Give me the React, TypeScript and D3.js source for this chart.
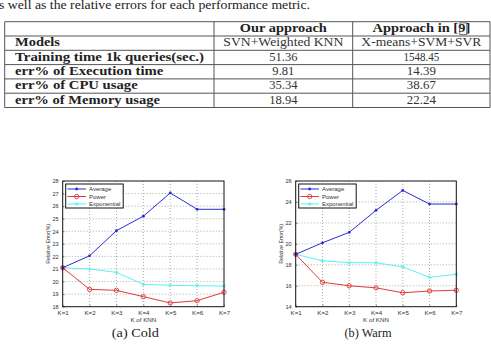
import React, { useRef, useEffect } from 'react';
import * as d3 from 'd3';

// table
const introText = 's well as the relative errors for each performance metric.';
const headerCols = ['Our approach', 'Approach in '];
const headerRef = '9';
const rowLabels = ['Models', 'Training time 1k queries(sec.)', 'err% of Execution time', 'err% of CPU usage', 'err% of Memory usage'];
const ourValues = ['SVN+Weighted KNN', '51.36', '9.81', '35.34', '18.94'];
const theirValues = ['X-means+SVM+SVR', '1548.45', '14.39', '38.67', '22.24'];

// charts
const kLabels = ['K=1', 'K=2', 'K=3', 'K=4', 'K=5', 'K=6', 'K=7'];
const seriesNames = ['Average', 'Power', 'Exponential'];

const coldAverage = [21.1, 22.05, 24.05, 25.2, 27.05, 25.75, 25.75];
const coldPower = [21.1, 19.38, 19.3, 18.8, 18.3, 18.48, 19.15];
const coldExponential = [21.1, 21.0, 20.73, 19.78, 19.7, 19.67, 19.64];
const coldTicks = [18, 19, 20, 21, 22, 23, 24, 25, 26, 27, 28];

const warmAverage = [19.0, 20.1, 21.1, 23.2, 25.1, 23.8, 23.8];
const warmPower = [19.0, 16.33, 16.0, 15.8, 15.33, 15.5, 15.57];
const warmExponential = [19.0, 18.38, 18.2, 18.2, 17.8, 16.8, 17.1];
const warmTicks = [14, 16, 18, 20, 22, 24, 26];

const colors = ['#2a2ad8', '#e23a3a', '#5ff0f0'];
const sans = 'Liberation Sans, Arial, sans-serif';
const serif = 'Liberation Serif, Times New Roman, serif';

function drawChart(svg, box, series, ticks, caption) {
  const g = svg.append('g');
  const x = d3.scalePoint().domain(kLabels).range([box.left, box.right]);
  const y = d3.scaleLinear().domain([ticks[0], ticks[ticks.length - 1]]).range([box.bottom, box.top]);

  // grid
  g.selectAll('.gy').data(ticks.slice(1, -1)).enter().append('line')
    .attr('x1', box.left).attr('x2', box.right)
    .attr('y1', d => y(d)).attr('y2', d => y(d))
    .attr('stroke', '#888').attr('stroke-width', 0.7).attr('stroke-dasharray', '1,2');
  g.selectAll('.gx').data(kLabels.slice(1, -1)).enter().append('line')
    .attr('x1', d => x(d)).attr('x2', d => x(d))
    .attr('y1', box.top).attr('y2', box.bottom)
    .attr('stroke', '#888').attr('stroke-width', 0.7).attr('stroke-dasharray', '1,2');

  // axes
  const ya = g.append('g').attr('transform', `translate(${box.left},0)`)
    .call(d3.axisLeft(y).tickValues(ticks).tickSize(2).tickPadding(2));
  ya.select('.domain').remove();
  ya.selectAll('text').style('font-family', sans).style('font-size', '5.6px').attr('fill', '#333');
  ya.selectAll('line').attr('stroke', '#333').attr('stroke-width', 0.5).attr('x2', 2);

  const xa = g.append('g').attr('transform', `translate(0,${box.bottom})`)
    .call(d3.axisBottom(x).tickSize(2).tickPadding(1.5));
  xa.select('.domain').remove();
  xa.selectAll('text').style('font-family', sans).style('font-size', '6.2px').attr('fill', '#333');
  xa.selectAll('line').attr('stroke', '#333').attr('stroke-width', 0.5).attr('y2', -2);

  g.append('text').attr('x', (box.left + box.right) / 2).attr('y', box.bottom + 15)
    .attr('text-anchor', 'middle').style('font-family', sans).style('font-size', '6.2px').attr('fill', '#333')
    .text('K of KNN');
  g.append('text')
    .attr('transform', `translate(${box.left - 15},${(box.top + box.bottom) / 2}) rotate(-90)`)
    .attr('text-anchor', 'middle').attr('dy', '0.35em')
    .style('font-family', sans).style('font-size', '5.2px').attr('fill', '#333')
    .text('Relative Error(%)');

  const line = d3.line().x((d, i) => x(kLabels[i])).y(d => y(d));

  // draw in order: exponential, power, average
  [2, 1, 0].forEach(si => {
    const vals = series[si];
    g.append('path').datum(vals).attr('d', line).attr('fill', 'none')
      .attr('stroke', colors[si]).attr('stroke-width', 1);
    drawMarkers(g, vals.map((v, i) => [x(kLabels[i]), y(v)]), si);
  });

  // frame
  g.append('rect').attr('x', box.left).attr('y', box.top)
    .attr('width', box.right - box.left).attr('height', box.bottom - box.top)
    .attr('fill', 'none').attr('stroke', '#111').attr('stroke-width', 1);

  // legend
  const lx = box.left + 3, ly = box.top + 3;
  const lg = g.append('g');
  lg.append('rect').attr('x', lx).attr('y', ly).attr('width', 57.5).attr('height', 24)
    .attr('fill', '#fff').attr('stroke', '#111').attr('stroke-width', 1);
  seriesNames.forEach((name, si) => {
    const cy = ly + 5 + si * 7.5;
    lg.append('line').attr('x1', lx + 1.7).attr('x2', lx + 20.3).attr('y1', cy).attr('y2', cy)
      .attr('stroke', colors[si]).attr('stroke-width', 1);
    drawMarkers(lg, [[lx + 11, cy]], si);
    lg.append('text').attr('x', lx + 23.3).attr('y', cy).attr('dy', '0.35em')
      .style('font-family', sans).style('font-size', '6px').attr('fill', '#333')
      .text(name);
  });

  svg.append('text').attr('x', (box.left + box.right) / 2 - 8).attr('y', 336.5)
    .attr('text-anchor', 'middle').style('font-family', serif).style('font-size', '12px').attr('fill', '#222')
    .attr('textLength', 47).attr('lengthAdjust', 'spacingAndGlyphs')
    .text(caption);
}

function drawMarkers(g, pts, si) {
  pts.forEach(([px, py]) => {
    if (si === 0) {
      g.append('circle').attr('cx', px).attr('cy', py).attr('r', 1.4).attr('fill', colors[0]);
    } else if (si === 1) {
      g.append('circle').attr('cx', px).attr('cy', py).attr('r', 2.2).attr('fill', 'none')
        .attr('stroke', colors[1]).attr('stroke-width', 0.9);
    } else {
      const s = 1.8;
      const p = `M${px - s},${py}L${px + s},${py}M${px},${py - s}L${px},${py + s}M${px - s * 0.7},${py - s * 0.7}L${px + s * 0.7},${py + s * 0.7}M${px - s * 0.7},${py + s * 0.7}L${px + s * 0.7},${py - s * 0.7}`;
      g.append('path').attr('d', p).attr('stroke', colors[2]).attr('stroke-width', 0.8);
    }
  });
}

function fitText(sel, width) {
  sel.attr('textLength', width).attr('lengthAdjust', 'spacingAndGlyphs');
  return sel;
}

function drawTable(svg) {
  fitText(svg.append('text').attr('x', -1).attr('y', 9.2).style('font-family', serif).style('font-size', '11.5px')
    .attr('fill', '#222').text(introText), 311);

  const xs = [4.7, 214, 352.7, 490];
  const ys = [21.7, 36, 50.3, 64.6, 78.9, 93.2, 107.5];
  const t = svg.append('g').attr('stroke', '#555').attr('stroke-width', 1);
  ys.forEach(yy => t.append('line').attr('x1', xs[0]).attr('x2', xs[3]).attr('y1', yy).attr('y2', yy));
  xs.forEach(xx => t.append('line').attr('x1', xx).attr('x2', xx).attr('y1', ys[0]).attr('y2', ys[ys.length - 1]));

  const mid1 = (xs[1] + xs[2]) / 2, mid2 = (xs[2] + xs[3]) / 2;
  fitText(svg.append('text').attr('x', mid1).attr('y', ys[0] + 10.3).attr('text-anchor', 'middle')
    .style('font-family', serif).style('font-size', '12px').style('font-weight', 'bold').attr('fill', '#222')
    .text(headerCols[0]), 87);

  // "Approach in [9]" with boxed reference number
  const hx = mid2 - 97.7 / 2;
  fitText(svg.append('text').attr('x', hx).attr('y', ys[0] + 10.3)
    .style('font-family', serif).style('font-size', '12px').style('font-weight', 'bold').attr('fill', '#222')
    .text(headerCols[1] + '[' + headerRef + ']'), 97.7);
  svg.append('rect').attr('x', hx + 87.3).attr('y', ys[0] + 1.2).attr('width', 7).attr('height', 11.5)
    .attr('fill', 'none').attr('stroke', '#555').attr('stroke-width', 0.8);

  const labelWidths = [45, 189, 148.3, 122.7, 145];
  const valWidths = [120, 28.3, 22, 28.3, 28.3];
  const val2Widths = [120, 35.7, 29, 29, 29];
  rowLabels.forEach((lab, i) => {
    const by = ys[i + 1] + 10.3;
    fitText(svg.append('text').attr('x', 15).attr('y', by).style('font-family', serif).style('font-size', '12px')
      .style('font-weight', 'bold').attr('fill', '#222').text(lab), labelWidths[i]);
    fitText(svg.append('text').attr('x', mid1).attr('y', by).attr('text-anchor', 'middle').style('font-family', serif)
      .style('font-size', '12px').attr('fill', '#333').text(ourValues[i]), valWidths[i]);
    fitText(svg.append('text').attr('x', mid2).attr('y', by).attr('text-anchor', 'middle').style('font-family', serif)
      .style('font-size', '12px').attr('fill', '#333').text(theirValues[i]), val2Widths[i]);
  });
}

const App = () => {
  const ref = useRef(null);

  useEffect(() => {
    const svg = d3.select(ref.current);
    svg.selectAll('*').remove();
    svg.append('rect').attr('width', 491).attr('height', 344).attr('fill', '#fff');

    drawTable(svg);
    drawChart(svg, { left: 62.7, right: 224, top: 181, bottom: 306.7 },
      [coldAverage, coldPower, coldExponential], coldTicks, '(a)  Cold');
    drawChart(svg, { left: 295.7, right: 456.3, top: 181, bottom: 306.7 },
      [warmAverage, warmPower, warmExponential], warmTicks, '(b)  Warm');
  }, []);

  return <svg ref={ref} width={491} height={344} style={{ position: 'absolute', left: 0, top: 0 }} />;
};

export default App;
